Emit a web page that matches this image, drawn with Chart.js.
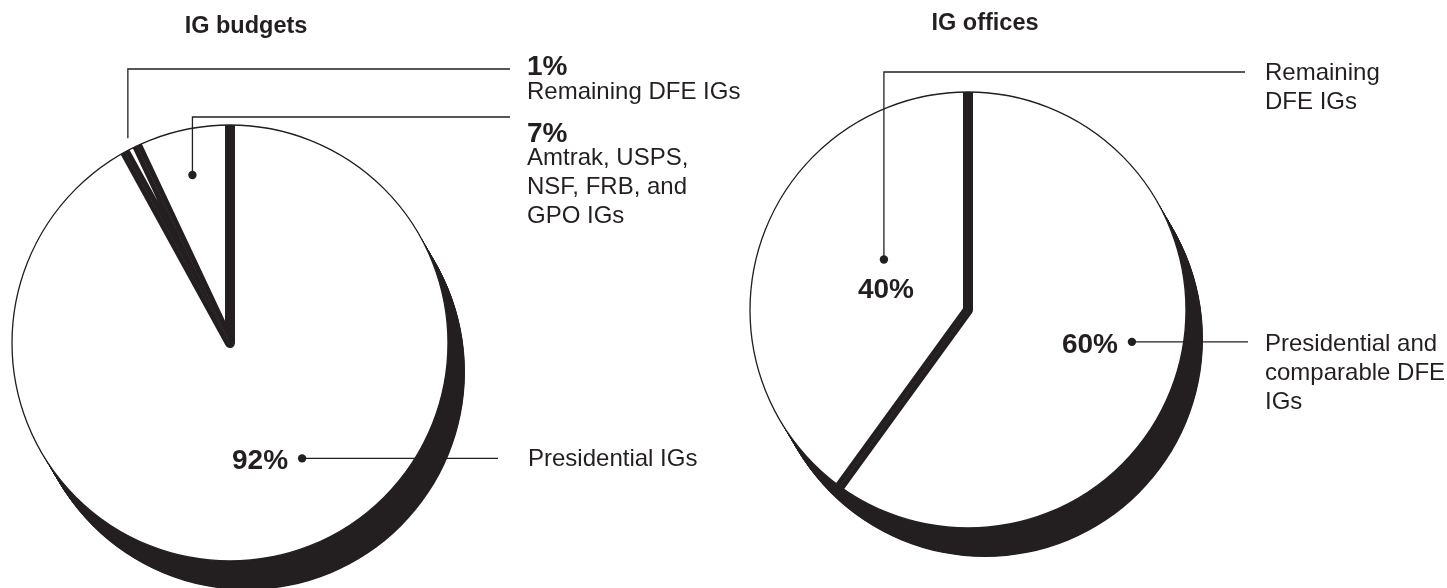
<!DOCTYPE html>
<html><head><meta charset="utf-8">
<script src="https://cdn.jsdelivr.net/npm/chart.js@4.4.1/dist/chart.umd.min.js"></script>
<style>
html,body{margin:0;padding:0;background:#fff;}
#wrap{position:relative;width:1447px;height:588px;overflow:hidden;background:#fff;}
canvas{position:absolute;left:0;top:0;}
</style></head><body>
<div id="wrap"><canvas id="c1" width="1447" height="588"></canvas><canvas id="c2" width="1447" height="588"></canvas></div>
<script>
// ---- data ----
const budgetTitle = 'IG budgets';
const budgetCategories = ['Presidential IGs', 'Remaining DFE IGs', 'Amtrak, USPS, NSF, FRB, and GPO IGs'];
const budgetValues = [92, 1, 7];
const budgetLabelLines = [['Presidential IGs'], ['Remaining DFE IGs'], ['Amtrak, USPS,', 'NSF, FRB, and', 'GPO IGs']];

const officeTitle = 'IG offices';
const officeCategories = ['Presidential and comparable DFE IGs', 'Remaining DFE IGs'];
const officeValues = [60, 40];
const officeLabelLines = [['Presidential and', 'comparable DFE', 'IGs'], ['Remaining', 'DFE IGs']];

// ---- style ----
const INK = '#231f20';
const FONT = '"Liberation Sans", Arial, Helvetica, sans-serif';
const R = 218;      // visible radius
const GAP = 5;      // half crack width (inner border)

const pie3d = {
  id: 'pie3d',
  beforeDatasetsDraw(chart, args, o) {
    const a = chart.getDatasetMeta(0).data[0];
    const ctx = chart.ctx;
    ctx.save();
    ctx.fillStyle = o.shadowColor;
    const n = 48;
    for (let i = 0; i <= n; i++) {
      const t = i / n;
      ctx.beginPath();
      ctx.arc(a.x + o.dx * t, a.y + o.dy * t, o.radius, 0, Math.PI * 2);
      ctx.fill();
    }
    ctx.restore();
  },
  beforeDatasetDraw(chart, args, o) {
    const a = args.meta.data[0];
    const ctx = chart.ctx;
    ctx.save();
    ctx.beginPath();
    ctx.arc(a.x, a.y, o.radius, 0, Math.PI * 2);
    ctx.clip();
  },
  afterDatasetDraw(chart, args, o) {
    const a = args.meta.data[0];
    const ctx = chart.ctx;
    ctx.restore();
    ctx.save();
    ctx.strokeStyle = o.shadowColor;
    ctx.lineWidth = 1.3;
    ctx.beginPath();
    ctx.arc(a.x, a.y, o.radius, 0, Math.PI * 2);
    ctx.stroke();
    ctx.restore();
  }
};

const pieLabels = {
  id: 'pieLabels',
  afterDraw(chart, args, o) {
    const ctx = chart.ctx;
    const meta = chart.getDatasetMeta(0);
    const values = chart.data.datasets[0].data;
    ctx.save();
    ctx.fillStyle = INK; ctx.strokeStyle = INK; ctx.lineWidth = 1.3;
    ctx.textBaseline = 'alphabetic';
    ctx.font = 'bold 23.5px ' + FONT;
    ctx.textAlign = 'center';
    ctx.fillText(o.title, o.titleX, o.titleY);
    o.items.forEach((it, i) => {
      const arc = meta.data[i];
      const ang = (arc.startAngle + arc.endAngle) / 2 + it.dAngle * Math.PI / 180;
      const px = arc.x + Math.cos(ang) * R * it.rFrac;
      const py = arc.y + Math.sin(ang) * R * it.rFrac;
      const pct = values[i] + '%';
      const lines = o.lines[i];
      ctx.beginPath();
      if (it.kind === 'h') {
        ctx.moveTo(px, py); ctx.lineTo(it.lineEndX, py);
      } else {
        ctx.moveTo(px, py); ctx.lineTo(px, it.lineY); ctx.lineTo(it.lineEndX, it.lineY);
      }
      ctx.stroke();
      if (it.dot) { ctx.beginPath(); ctx.arc(px, py, 4.2, 0, Math.PI * 2); ctx.fill(); }
      ctx.font = 'bold 28px ' + FONT;
      if (it.pctPos === 'left') {
        ctx.textAlign = 'right'; ctx.fillText(pct, px - 14, py + 11);
      } else if (it.pctPos === 'below') {
        ctx.textAlign = 'center'; ctx.fillText(pct, px + 2, py + 39);
      } else {
        ctx.textAlign = 'left'; ctx.fillText(pct, it.textX, it.pctBase);
      }
      ctx.font = '24px ' + FONT;
      ctx.textAlign = 'left';
      const base = it.kind === 'h' ? py + it.textBase : it.textBase;
      lines.forEach((t, k) => ctx.fillText(t, it.textX, base + k * 29));
    });
    ctx.restore();
  }
};

function makePie(id, cats, vals, padding, labelOpts) {
  return new Chart(document.getElementById(id), {
    type: 'pie',
    data: {
      labels: cats,
      datasets: [{
        data: vals,
        backgroundColor: '#ffffff',
        borderColor: INK,
        borderWidth: GAP,
        borderAlign: 'inner',
        radius: R + GAP + 2
      }]
    },
    options: {
      responsive: false,
      animation: false,
      events: [],
      layout: { padding: padding },
      plugins: {
        legend: { display: false },
        tooltip: { enabled: false },
        title: { display: false },
        pie3d: { radius: R, dx: 17, dy: 29, shadowColor: INK },
        pieLabels: labelOpts
      }
    },
    plugins: [pie3d, pieLabels]
  });
}

makePie('c1', budgetCategories, budgetValues,
  { left: 0, right: 987, top: 100, bottom: 2 },
  {
    title: budgetTitle, titleX: 246, titleY: 33, lines: budgetLabelLines,
    items: [
      { kind: 'h', dAngle: -17.6, rFrac: 0.624, dot: true, lineEndX: 498, pctPos: 'left', textX: 528, textBase: 8 },
      { kind: 'up', dAngle: 0.5, rFrac: 1.05, dot: false, lineY: 69, lineEndX: 510, pctPos: 'block', textX: 527, pctBase: 75, textBase: 99 },
      { kind: 'up', dAngle: 0, rFrac: 0.79, dot: true, lineY: 117, lineEndX: 510, pctPos: 'block', textX: 527, pctBase: 142, textBase: 165 }
    ]
  });

makePie('c2', officeCategories, officeValues,
  { left: 740, right: 251, top: 80, bottom: 48 },
  {
    title: officeTitle, titleX: 985, titleY: 30, lines: officeLabelLines,
    items: [
      { kind: 'h', dAngle: -7, rFrac: 0.766, dot: true, lineEndX: 1248, pctPos: 'left', textX: 1265, textBase: 9 },
      { kind: 'up', dAngle: 13, rFrac: 0.45, dot: true, lineY: 72, lineEndX: 1245, pctPos: 'below', textX: 1265, textBase: 80 }
    ]
  });
</script>
</body></html>
